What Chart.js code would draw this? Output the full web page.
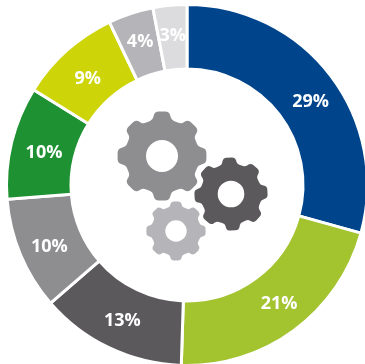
<!DOCTYPE html>
<html lang="en">
  <head>
    <meta charset="UTF-8" />
    <title>Share by category</title>
    <script src="https://cdn.jsdelivr.net/npm/chart.js"></script>
    <style>
      html, body { margin: 0; padding: 0; background: #fff; overflow: hidden; }
      #wrap { width: 365px; height: 364px; overflow: hidden; }
      canvas { display: block; }
    </style>
  </head>
  <body>
    <div id="wrap"><canvas id="donut" width="374" height="370"></canvas></div>
    <script>
      const categories = ["A", "B", "C", "D", "E", "F", "G", "H"];
      const shares = [29, 21, 13, 10, 10, 9, 4, 3];
      const sliceColors = ["#00458c", "#a3c32f", "#5b595c", "#8e8e91", "#1e9132", "#cdd408", "#b5b5b9", "#dcdcde"];

      // small x/y shifts so each label sits where it reads best inside its slice
      const labelNudge = [[4, 8], [3, -2], [0, 0], [1, 4], [3, 3], [1, 6], [0, 0], [0, 0]];

      // cx, cy, outer radius, hole radius, rotation in degrees, colour
      const gears = [
        [162, 156, 45, 16, 0, "#8e8e91"],
        [231, 194, 37, 13.3, -3, "#5b595c"],
        [176, 231, 30, 10.7, 0, "#b5b5b9"],
      ];

      function drawGear(ctx, cx, cy, outer, hole, rot, color) {
        const teeth = 8;
        const root = outer * 0.83;
        const step = (Math.PI * 2) / teeth;
        const pts = [];
        for (let i = 0; i < teeth; i++) {
          const a = -Math.PI / 2 + (rot * Math.PI) / 180 + i * step;
          [[-0.29, root], [-0.19, outer], [0.19, outer], [0.29, root]].forEach(([k, r]) => {
            const t = a + k * step * 1.1;
            pts.push([cx + r * Math.cos(t), cy + r * Math.sin(t)]);
          });
        }
        const corner = outer * 0.12;
        const n = pts.length;
        const midX = (pts[0][0] + pts[1][0]) / 2;
        const midY = (pts[0][1] + pts[1][1]) / 2;
        ctx.beginPath();
        ctx.moveTo(midX, midY);
        for (let i = 1; i <= n; i++) {
          const p = pts[i % n];
          const q = pts[(i + 1) % n];
          ctx.arcTo(p[0], p[1], q[0], q[1], corner);
        }
        ctx.closePath();
        ctx.moveTo(cx + hole, cy);
        ctx.arc(cx, cy, hole, 0, Math.PI * 2, true);
        ctx.fillStyle = color;
        ctx.fill();
      }

      const gearsPlugin = {
        id: "gears",
        afterDatasetsDraw(chart) {
          gears.forEach((g) => drawGear(chart.ctx, ...g));
        },
      };

      const percentLabels = {
        id: "percentLabels",
        afterDatasetsDraw(chart) {
          const ctx = chart.ctx;
          ctx.save();
          ctx.font = "bold 18px 'Open Sans'";
          ctx.fillStyle = "#ffffff";
          ctx.textAlign = "center";
          ctx.textBaseline = "middle";
          chart.getDatasetMeta(0).data.forEach((arc, i) => {
            const { startAngle, endAngle, outerRadius, innerRadius, x, y } = arc.getProps(
              ["startAngle", "endAngle", "outerRadius", "innerRadius", "x", "y"],
              true
            );
            const mid = (startAngle + endAngle) / 2;
            const r = (outerRadius + innerRadius) / 2 + 2;
            const [dx, dy] = labelNudge[i];
            ctx.fillText(shares[i] + "%", x + r * Math.cos(mid) + dx, y + r * Math.sin(mid) + dy);
          });
          ctx.restore();
        },
      };

      new Chart(document.getElementById("donut"), {
        type: "doughnut",
        data: {
          labels: categories,
          datasets: [
            {
              data: shares,
              backgroundColor: sliceColors,
              borderColor: "#ffffff",
              borderWidth: 3,
              hoverOffset: 0,
            },
          ],
        },
        options: {
          responsive: false,
          animation: false,
          cutout: 116,
          layout: { padding: 3 },
          plugins: { legend: { display: false }, tooltip: { enabled: false } },
        },
        plugins: [percentLabels, gearsPlugin],
      });
    </script>
  </body>
</html>
